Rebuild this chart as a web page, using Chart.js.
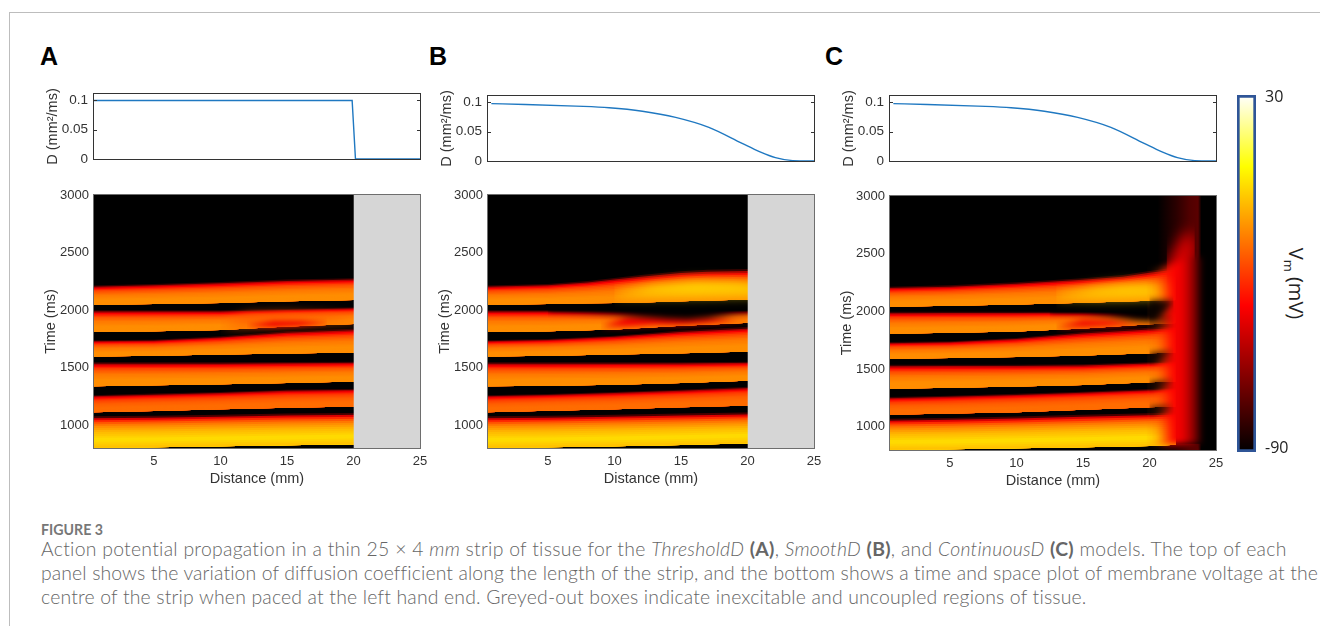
<!DOCTYPE html>
<html>
<head>
<meta charset="utf-8">
<title>Figure 3</title>
<script src="https://cdn.jsdelivr.net/npm/chart.js@4"></script>
<style>
  html, body { margin: 0; padding: 0; background: #fff; width: 1320px; height: 626px; overflow: hidden; }
  canvas { position: absolute; }
  .rule { position: absolute; background: #bdbdbd; }
  .letter { position: absolute; font: bold 25px "Liberation Sans", sans-serif; color: #000; line-height: 28px; }
  .cap { position: absolute; left: 41px; font: 300 19.4px Lato, sans-serif; color: #666; white-space: nowrap; line-height: 24px; }
  .cap b { font-weight: 700; color: #666; }
  #figno { font-size: 14.2px; font-weight: 700; color: #777; line-height: 16px; }
  #vm { position: absolute; left: 1252px; top: 268px; width: 80px; text-align: center; transform: rotate(90deg);
        font: 20px "Open Sans", sans-serif; color: #222; line-height: 24px; white-space: nowrap; }
  #vm sub { font-size: 13px; }
</style>
</head>
<body>
<div class="rule" style="left:9px;top:12px;width:1px;height:614px"></div>
<div class="rule" style="left:9px;top:12px;width:1311px;height:1px"></div>
<div class="letter" style="left:40px;top:42px">A</div>
<div class="letter" style="left:429px;top:42px">B</div>
<div class="letter" style="left:825px;top:42px">C</div>
<div id="vm">V<sub>m</sub> (mV)</div>
<div class="cap" id="figno" style="top:522px">FIGURE 3</div>
<div class="cap" style="top:537px;letter-spacing:0.27px">Action potential propagation in a thin 25 × 4 <i>mm</i> strip of tissue for the <i>ThresholdD</i> <b>(A)</b>, <i>SmoothD</i> <b>(B)</b>, and <i>ContinuousD</i> <b>(C)</b> models. The top of each</div>
<div class="cap" style="top:561px;letter-spacing:0.12px">panel shows the variation of diffusion coefficient along the length of the strip, and the bottom shows a time and space plot of membrane voltage at the</div>
<div class="cap" style="top:585px;letter-spacing:0.18px">centre of the strip when paced at the left hand end. Greyed-out boxes indicate inexcitable and uncoupled regions of tissue.</div>

<canvas id="topA"></canvas><canvas id="topB"></canvas><canvas id="topC"></canvas>
<canvas id="heatA"></canvas><canvas id="heatB"></canvas><canvas id="heatC"></canvas>
<canvas id="colorbar"></canvas>

<script>
// tick labels
const distanceTicks = [5, 10, 15, 20, 25];
const timeTicks = [1000, 1500, 2000, 2500, 3000];
const diffusionTicks = [0, 0.05, 0.1];
const voltageTicks = [-90, 30];

// diffusion coefficient along the strip
const thresholdX = [0.5, 19.9, 20.15, 25];
const thresholdD = [0.1, 0.1, 0, 0];
const smoothX = [0.75, 3.3, 7.1, 9.6, 12.1, 14.6, 17.1, 19.6, 20.9, 22.1, 23.4, 25];
const smoothD = [0.098, 0.0966, 0.0937, 0.091, 0.085, 0.0744, 0.0574, 0.03, 0.016, 0.0057, 0.0006, 0];

// activation bands: upstroke time (lo) and time back at rest (hi), one row per beat
const bandXA = [0, 5, 10, 15, 21];
const loA = [
  [803, 806, 815, 823, 835],
  [1110, 1122, 1136, 1151, 1162],
  [1336, 1345, 1354, 1365, 1380],
  [1595, 1603, 1612, 1621, 1632],
  [1809, 1815, 1827, 1856, 1882],
  [2044, 2053, 2061, 2076, 2090]
];
const hiA = [
  [1075, 1081, 1090, 1099, 1105],
  [1258, 1273, 1287, 1307, 1316],
  [1545, 1545, 1545, 1548, 1551],
  [1737, 1742, 1771, 1815, 1841],
  [1998, 1998, 1998, 2009, 2027],
  [2212, 2227, 2244, 2265, 2279]
];
const bandXB = [0, 5, 10, 15, 21];
const loB = [
  [803, 806, 815, 826, 843],
  [1110, 1125, 1136, 1154, 1171],
  [1336, 1342, 1351, 1365, 1389],
  [1595, 1603, 1612, 1624, 1641],
  [1809, 1815, 1830, 1864, 1893]
];
const hiB = [
  [1075, 1081, 1090, 1099, 1110],
  [1258, 1270, 1287, 1307, 1336],
  [1545, 1545, 1545, 1545, 1551],
  [1737, 1748, 1777, 1821, 1858],
  [1998, 1998, 1998, 1998, 1998]
];
const lastBandXB = [0, 5, 8, 10, 12, 15, 17, 21];
const lastLoB = [2044, 2053, 2058, 2061, 2066, 2076, 2082, 2093];
const lastHiB = [2212, 2227, 2252, 2279, 2304, 2337, 2349, 2358];
const bandXC = [0, 5, 10, 15, 20, 22];
const loC = [
  [803, 806, 815, 823, 835, 845],
  [1105, 1116, 1128, 1148, 1171, 1180],
  [1331, 1339, 1351, 1363, 1386, 1395],
  [1589, 1597, 1606, 1618, 1638, 1645],
  [1806, 1815, 1827, 1853, 1890, 1900]
];
const hiC = [
  [1070, 1078, 1090, 1105, 1119, 1125],
  [1258, 1270, 1287, 1305, 1328, 1340],
  [1539, 1539, 1539, 1542, 1560, 1570],
  [1734, 1742, 1771, 1821, 1858, 1870],
  [1997, 1997, 1997, 1997, 1997, 1997]
];
const lastBandXC = [0, 5, 10, 15, 18, 20, 22];
const lastLoC = [2041, 2050, 2061, 2076, 2086, 2093, 2100];
const lastHiC = [2212, 2226, 2253, 2287, 2315, 2351, 2380];

// membrane voltage (mV) across one band, from upstroke to rest
const profileF = [0, 0.25, 0.5, 0.7, 0.82, 0.9, 0.95, 1];
const profileFirst = [-6, 0, -7, -17, -28, -45, -68, -90];
const profileWeak = [-21, -21, -24, -30, -40, -54, -72, -90];
const profileMid = [-15, -15, -19, -27, -38, -53, -72, -90];

const colorbarRange = [-91.3, 31];

// hot colormap of the colour bar
const hotPos = [0, 0.41, 0.8, 1];
const hotRgb = [[0, 0, 0], [255, 0, 0], [255, 255, 0], [255, 255, 255]];

function voltageColor(v) {
  const t = Math.min(1, Math.max(0, (v + 90) / 120));
  let i = 0;
  while (i < hotPos.length - 2 && t > hotPos[i + 1]) i++;
  const f = (t - hotPos[i]) / (hotPos[i + 1] - hotPos[i]);
  const c = hotRgb[i].map((a, k) => Math.round(a + (hotRgb[i + 1][k] - a) * f));
  return `rgb(${c[0]},${c[1]},${c[2]})`;
}

function profileAt(prof, f) {
  let i = 0;
  while (i < profileF.length - 2 && f > profileF[i + 1]) i++;
  return prof[i] + (prof[i + 1] - prof[i]) * (f - profileF[i]) / (profileF[i + 1] - profileF[i]);
}

// one band becomes nested fills, widest first, so the colour follows the band edges
function bandLayers(xs, lo, hi, prof) {
  const out = [];
  const steps = 16;
  for (let k = steps; k >= 1; k--) {
    const f = k / steps;
    out.push({ x: xs, lo: lo, hi: lo.map((v, i) => v + f * (hi[i] - v)), color: voltageColor(profileAt(prof, f - 0.5 / steps)), blur: 0.5 });
  }
  return out;
}

function patch(x, lo, hi, color, blur) {
  return { x: x, lo: lo, hi: hi, color: color, blur: blur };
}

// fill going across the strip (panel C, beyond the coupled region)
function sideGradient(stops) {
  return ctx => {
    const chart = ctx.chart;
    if (!chart.chartArea) return 'transparent';
    const sx = chart.scales.x;
    const a = sx.getPixelForValue(stops[0][0]);
    const b = sx.getPixelForValue(stops[stops.length - 1][0]);
    const g = chart.ctx.createLinearGradient(a, 0, b, 0);
    stops.forEach(s => g.addColorStop((s[0] - stops[0][0]) / (stops[stops.length - 1][0] - stops[0][0]), s[1]));
    return g;
  };
}

const greyBox = patch([20, 27], [700, 700], [3100, 3100], '#d6d6d6', 0);

const layersA = [
  ...bandLayers(bandXA, loA[0], hiA[0], profileFirst),
  ...bandLayers(bandXA, loA[1], hiA[1], profileWeak),
  ...bandLayers(bandXA, loA[2], hiA[2], profileMid),
  ...bandLayers(bandXA, loA[3], hiA[3], profileMid),
  ...bandLayers(bandXA, loA[4], hiA[4], profileMid),
  patch([10, 12, 15, 18, 21], [1860, 1865, 1880, 1895, 1900], [1860, 1955, 1965, 1950, 1900], '#ff5a00', 6),
  patch([12, 14, 16, 18], [1862, 1852, 1862, 1885], [1865, 1905, 1905, 1890], '#f00000', 2.5),
  ...bandLayers(bandXA, loA[5], hiA[5], profileMid),
  greyBox
];

const layersB = [
  ...bandLayers(bandXB, loB[0], hiB[0], profileFirst),
  ...bandLayers(bandXB, loB[1], hiB[1], profileWeak),
  ...bandLayers(bandXB, loB[2], hiB[2], profileMid),
  ...bandLayers(bandXB, loB[3], hiB[3], profileMid),
  ...bandLayers(bandXB, loB[4], hiB[4], profileMid),
  patch([9, 11, 13, 15, 17, 19, 21], [1855, 1855, 1870, 1870, 1885, 1900, 1915], [1855, 1945, 1960, 1960, 1950, 1915, 1915], '#f00000', 3),
  patch([5, 8, 10, 12, 14, 15.5, 17, 19, 21], [1998, 1980, 1966, 1940, 1922, 1916, 1931, 1969, 1989], [2120, 2120, 2120, 2120, 2120, 2120, 2120, 2120, 2120], '#000', 3),
  ...bandLayers(lastBandXB, lastLoB, lastHiB, profileMid),
  patch([10, 13, 16, 19, 21], [2130, 2125, 2125, 2130, 2135], [2150, 2225, 2255, 2245, 2225], '#ffd800', 6),
  greyBox
];

const darkWall = [[20.6, '#000'], [22, '#2a0000'], [23, '#500000'], [23.65, '#5a0000'], [23.9, '#000'], [25.2, '#000']];
const redWall = [[19.8, 'rgba(255,90,0,0)'], [20.5, 'rgba(255,80,0,0.2)'], [21, 'rgba(255,50,0,0.55)'], [21.5, 'rgba(255,15,0,0.85)'], [22, 'rgb(250,0,0)'],
  [22.5, 'rgb(232,0,0)'], [23, 'rgb(180,0,0)'], [23.5, 'rgb(110,0,0)'], [23.8, 'rgb(50,0,0)'], [23.95, 'rgb(0,0,0)'], [25.2, 'rgb(0,0,0)']];
const gapShade = 'rgba(0,0,0,0.8)';

const layersC = [
  { x: [20.6, 25.2], lo: [2300, 2300], hi: [3100, 3100], fillFn: sideGradient(darkWall), blur: 0 },
  { x: [20.6, 25.2], lo: [700, 700], hi: [855, 855], fillFn: sideGradient(darkWall), blur: 0 },
  ...bandLayers(bandXC, loC[0], hiC[0], profileFirst),
  ...bandLayers(bandXC, loC[1], hiC[1], profileWeak),
  ...bandLayers(bandXC, loC[2], hiC[2], profileMid),
  ...bandLayers(bandXC, loC[3], hiC[3], profileMid),
  ...bandLayers(bandXC, loC[4], hiC[4], profileMid),
  patch([13, 15, 17, 19, 22], [1862, 1862, 1872, 1890, 1902], [1865, 1930, 1925, 1905, 1902], '#f00000', 3),
  patch([12.5, 15, 17, 19, 20, 22], [2000, 1989, 1960, 1922, 1916, 1900], [2120, 2120, 2120, 2120, 2120, 2120], '#000', 3),
  ...bandLayers(lastBandXC, lastLoC, lastHiC, profileMid),
  patch([13, 16, 18, 20, 22], [2125, 2115, 2115, 2120, 2125], [2150, 2215, 2240, 2240, 2180], '#ffd000', 6),
  patch([21.3, 21.8, 22.3, 22.8, 23.4], [2300, 2300, 2300, 2300, 2300], [2420, 2520, 2620, 2700, 2640], '#d80000', 7),
  { x: [19.8, 21, 22, 23, 25.2], lo: [830, 842, 848, 855, 855], hi: [2345, 2385, 2420, 2470, 2470], fillFn: sideGradient(redWall), blur: 3 },
  // black gaps between beats taper off inside the red wall
  patch([20, 21, 21.8], [1119, 1140, 1178], [1171, 1178, 1178], gapShade, 3),
  patch([20, 21, 21.8], [1328, 1360, 1398], [1386, 1398, 1398], gapShade, 3),
  patch([20, 21, 21.8], [1560, 1610, 1652], [1638, 1648, 1652], gapShade, 3),
  patch([20, 21, 21.8], [1858, 1885, 1905], [1890, 1900, 1905], gapShade, 3),
  patch([20, 21, 21.8], [1916, 1990, 2085], [2093, 2095, 2090], gapShade, 3)
];

function layersToDatasets(layers) {
  // the last dataset is painted first, so walk the layers backwards
  const sets = [];
  for (let i = layers.length - 1; i >= 0; i--) {
    const l = layers[i];
    const base = { pointRadius: 0, borderWidth: 0, borderColor: 'transparent', tension: 0 };
    sets.push({ ...base, data: l.x.map((x, k) => ({ x: x, y: l.hi[k] })), fill: '+1', backgroundColor: l.fillFn || l.color, isHi: true });
    sets.push({ ...base, data: l.x.map((x, k) => ({ x: x, y: l.lo[k] })), fill: false, blurNext: l.blur });
  }
  return sets;
}

const heatPlugin = {
  id: 'heatPlugin',
  beforeDatasetsDraw(chart) {
    const a = chart.chartArea;
    chart.ctx.fillStyle = '#000';
    chart.ctx.fillRect(a.left, a.top, a.width, a.height);
  },
  afterDatasetDraw(chart, args) {
    const ds = chart.data.datasets[args.index];
    chart.ctx.filter = ds.blurNext ? `blur(${ds.blurNext}px)` : 'none';
  },
  afterDatasetsDraw(chart) {
    chart.ctx.filter = 'none';
  },
  afterDraw(chart) {
    const a = chart.chartArea;
    chart.ctx.strokeStyle = '#6e6e6e';
    chart.ctx.lineWidth = 1;
    chart.ctx.strokeRect(a.left - 0.5, a.top - 0.5, a.width + 1, a.height + 1);
  }
};

// box around the diffusion plots with short inward ticks on both sides
const boxPlugin = {
  id: 'boxPlugin',
  afterDraw(chart) {
    const a = chart.chartArea;
    const c = chart.ctx;
    c.strokeStyle = '#333';
    c.lineWidth = 1;
    c.strokeRect(a.left - 0.5, a.top - 0.5, a.width + 1, a.height + 1);
    c.beginPath();
    diffusionTicks.slice(1).forEach(v => {
      const y = Math.round(chart.scales.y.getPixelForValue(v)) + 0.5;
      c.moveTo(a.left, y); c.lineTo(a.left + 3, y);
      c.moveTo(a.right, y); c.lineTo(a.right - 3, y);
    });
    c.stroke();
  }
};

const tickFont = { family: '"Liberation Sans", sans-serif', size: 13 };
const topTickFont = { family: '"Liberation Sans", sans-serif', size: 13.5 };
const titleFont = { family: '"Liberation Sans", sans-serif', size: 14.5 };
const inkColor = '#333';

// fixed axis boxes so the plot areas land exactly where they should
function fixBox(s, w, h) {
  if (w) s.width = w;
  if (h) s.height = h;
  s.paddingTop = 0; s.paddingBottom = 0; s.paddingLeft = 0; s.paddingRight = 0;
}

function placeCanvas(id, left, top, width, height) {
  const el = document.getElementById(id);
  el.width = width;
  el.height = height;
  el.style.left = left + 'px';
  el.style.top = top + 'px';
  el.style.width = width + 'px';
  el.style.height = height + 'px';
  return el;
}

function drawTop(id, left, top, xs, ys, smooth) {
  const el = placeCanvas(id, left - 60, top - 10, 60 + 326 + 14, 10 + 65 + 10);
  new Chart(el, {
    type: 'line',
    data: { datasets: [{ data: xs.map((x, i) => ({ x: x, y: ys[i] })), borderColor: '#1f78c1', borderWidth: 1.4, pointRadius: 0, cubicInterpolationMode: smooth ? 'monotone' : 'default', tension: 0, clip: false }] },
    options: {
      responsive: false, animation: false, devicePixelRatio: 1,
      layout: { padding: { top: 10, right: 14, bottom: 0, left: 0 } },
      plugins: { legend: { display: false }, tooltip: { enabled: false } },
      scales: {
        x: { type: 'linear', min: 0.5, max: 25, grid: { display: false }, border: { display: false },
          ticks: { display: false }, afterFit: s => fixBox(s, 0, 10) },
        y: { min: 0, max: 0.111, grid: { display: false, drawTicks: false }, border: { display: false },
          title: { display: true, text: 'D (mm²/ms)', font: titleFont, color: inkColor, padding: { top: 10, bottom: 0 } },
          ticks: { font: topTickFont, color: inkColor, padding: 6, autoSkip: false, callback: v => String(v) },
          afterBuildTicks: s => { s.ticks = diffusionTicks.map(v => ({ value: v })); },
          afterFit: s => fixBox(s, 60, 0) }
      }
    },
    plugins: [boxPlugin]
  });
}

function drawHeat(id, left, top, height, layers) {
  const el = placeCanvas(id, left - 60, top - 10, 60 + 326 + 14, 10 + height + 40);
  new Chart(el, {
    type: 'line',
    data: { datasets: layersToDatasets(layers) },
    options: {
      responsive: false, animation: false, devicePixelRatio: 1,
      layout: { padding: { top: 10, right: 14, bottom: 0, left: 0 } },
      plugins: { legend: { display: false }, tooltip: { enabled: false } },
      scales: {
        x: { type: 'linear', min: 0.5, max: 25, grid: { display: false, drawTicks: false }, border: { display: false },
          title: { display: true, text: 'Distance (mm)', font: titleFont, color: inkColor, padding: { top: 2, bottom: 0 } },
          ticks: { font: tickFont, color: inkColor, padding: 6, maxRotation: 0, autoSkip: false },
          afterBuildTicks: s => { s.ticks = distanceTicks.map(v => ({ value: v })); },
          afterFit: s => fixBox(s, 0, 40) },
        y: { min: 800, max: 3000, grid: { display: false, drawTicks: false }, border: { display: false },
          title: { display: true, text: 'Time (ms)', font: titleFont, color: inkColor, padding: { top: 8, bottom: 0 } },
          ticks: { font: tickFont, color: inkColor, padding: 5, autoSkip: false, callback: v => String(v) },
          afterBuildTicks: s => { s.ticks = timeTicks.map(v => ({ value: v })); },
          afterFit: s => fixBox(s, 60, 0) }
      }
    },
    plugins: [heatPlugin]
  });
}

function drawColorbar() {
  const el = placeCanvas('colorbar', 1237, 85, 70, 377);
  new Chart(el, {
    type: 'bar',
    data: {
      labels: ['Vm'],
      datasets: [{
        data: [colorbarRange],
        barPercentage: 1, categoryPercentage: 1,
        borderColor: '#2f5597', borderWidth: 3, borderSkipped: false,
        backgroundColor: ctx => {
          const a = ctx.chart.chartArea;
          if (!a) return '#000';
          const g = ctx.chart.ctx.createLinearGradient(0, a.bottom, 0, a.top);
          hotPos.forEach((p, i) => g.addColorStop(p, `rgb(${hotRgb[i].join(',')})`));
          return g;
        }
      }]
    },
    options: {
      responsive: false, animation: false, devicePixelRatio: 1,
      layout: { padding: { top: 10, right: 0, bottom: 10, left: 0 } },
      plugins: { legend: { display: false }, tooltip: { enabled: false } },
      scales: {
        x: { display: false },
        y: { position: 'right', min: colorbarRange[0], max: colorbarRange[1], grid: { display: false, drawTicks: false }, border: { display: false },
          ticks: { font: { family: '"Open Sans", sans-serif', size: 16 }, color: '#222', padding: 9, autoSkip: false, callback: v => String(v) },
          afterBuildTicks: s => { s.ticks = voltageTicks.map(v => ({ value: v })); },
          afterFit: s => fixBox(s, 51, 0) }
      }
    }
  });
}

drawTop('topA', 94, 94, thresholdX, thresholdD, false);
drawTop('topB', 488, 96, smoothX, smoothD, true);
drawTop('topC', 890, 96, smoothX, smoothD, true);
drawHeat('heatA', 94, 195, 253, layersA);
drawHeat('heatB', 488, 195, 253, layersB);
drawHeat('heatC', 890, 196, 254, layersC);
drawColorbar();
</script>
</body>
</html>
